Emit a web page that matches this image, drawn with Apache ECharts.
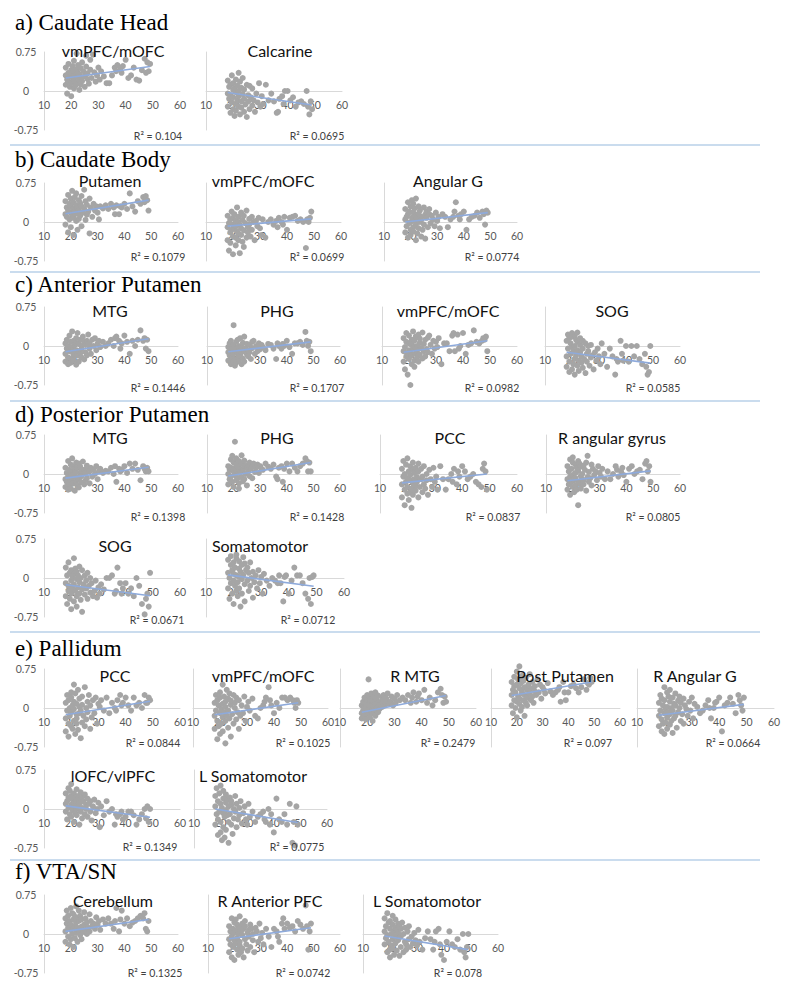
<!DOCTYPE html>
<html><head><meta charset="utf-8">
<script src="https://cdn.jsdelivr.net/npm/echarts@6/dist/echarts.min.js"></script>
<style>html,body{margin:0;padding:0;background:#fff}#c{width:792px;height:990px}</style>
</head><body><div id="c"></div>
<script>
// ---------- DATA ----------
const ages = [18,18,18,18.5,18.5,19,19,19, 19.5,19.5,20,20,20,20,20.5,20.5, 21,21,21,21,21.5,21.5,22,22, 22,22,22.5,22.5,23,23,23,23.5, 23.5,24,24,24,24.5,25,25,25.5, 25.5,26,26,26.5,27,27,27.5,28, 28.5,29,29.5,30,30.5,31,32,33,
  34,35,36,36.5,37,38,38.5,39,40,41,42,43,44,45,46,47,47.5,48,48.5,49];

const sectionTitles = ['a) Caudate Head','b) Caudate Body','c) Anterior Putamen','d) Posterior Putamen','e) Pallidum','f) VTA/SN'];

const panelNames = ['vmPFC/mOFC','Calcarine',
  'Putamen','vmPFC/mOFC','Angular G',
  'MTG','PHG','vmPFC/mOFC','SOG',
  'MTG','PHG','PCC','R angular gyrus',
  'SOG','Somatomotor',
  'PCC','vmPFC/mOFC','R MTG','Post Putamen','R Angular G',
  'lOFC/vlPFC','L Somatomotor',
  'Cerebellum','R Anterior PFC','L Somatomotor'];

const r2Labels = ['R² = 0.104','R² = 0.0695',
  'R² = 0.1079','R² = 0.0699','R² = 0.0774',
  'R² = 0.1446','R² = 0.1707','R² = 0.0982','R² = 0.0585',
  'R² = 0.1398','R² = 0.1428','R² = 0.0837','R² = 0.0805',
  'R² = 0.0671','R² = 0.0712',
  'R² = 0.0844','R² = 0.1025','R² = 0.2479','R² = 0.097','R² = 0.0664',
  'R² = 0.1349','R² = 0.0775',
  'R² = 0.1325','R² = 0.0742','R² = 0.078'];

// trend line value at youngest and oldest age
const trendAtMin = [0.25,-0.03, 0.16,-0.08,0.00, -0.11,-0.11,-0.12,-0.12, -0.08,-0.04,-0.17,-0.13, -0.13,0.06, -0.13,-0.13,-0.08,0.24,-0.14, 0.06,0.00, 0.05,-0.09,-0.04];
const trendAtMax = [0.47,-0.27, 0.42,0.06,0.18, 0.14,0.08,0.10,-0.33, 0.13,0.22,0.00,0.06, -0.34,-0.16, 0.13,0.10,0.24,0.50,0.07, -0.16,-0.26, 0.28,0.12,-0.30];

const caudHead_vmPFC = [0.30,0.12,0.45,0.22,-0.05,0.35,0.18,0.52, 0.08,0.28,0.40,0.15,0.33,-0.10,0.25,0.48, 0.05,0.38,0.20,0.58,0.30,0.10,0.42,0.27, 0.72,0.16,0.35,0.50,0.02,0.22,0.31,0.44, 0.12,0.26,0.55,0.19,0.38,0.08,0.29,0.47, 0.68,0.23,0.34,0.14,0.41,0.60,0.25,0.70, 0.36,0.18,0.30,0.45,0.22,0.38,0.28,0.15,
  0.15,0.30,0.45,0.38,0.50,0.42,0.35,0.48,0.60,0.25,0.30,0.45,0.22,0.20,0.40,0.62,0.35,0.55,0.38,0.52];
const caudHead_calcarine = [-0.05,0.20,-0.30,0.08,-0.15,-0.42,0.12,-0.08, 0.30,-0.22,0.02,-0.35,0.15,-0.12,-0.48,0.05, -0.25,0.22,-0.02,-0.38,0.10,-0.18,0.35,-0.30, 0.00,-0.10,-0.45,0.18,-0.20,0.06,-0.32,-0.06, 0.25,-0.15,-0.40,0.03,-0.26,0.12,-0.50,-0.08, -0.20,0.10,-0.35,-0.12,0.05,-0.28,-0.18,-0.40, -0.05,-0.22,0.15,-0.30,-0.10,-0.25,0.12,-0.18,
  -0.05,-0.20,-0.42,-0.40,-0.15,-0.10,-0.25,0.00,0.00,-0.18,-0.12,-0.30,-0.22,-0.20,-0.25,0.00,-0.30,-0.45,-0.20,-0.35];
const caudBody_putamen = [0.15,0.40,-0.05,0.28,0.10,0.52,-0.20,0.22, 0.35,0.05,0.18,0.45,-0.10,0.30,0.12,0.60, 0.25,-0.25,0.38,0.08,0.20,0.48,0.02,0.32, 0.16,0.55,-0.15,0.27,0.42,0.06,0.22,0.36, 0.12,0.50,-0.08,0.30,0.18,0.62,0.25,0.04, 0.40,0.14,0.33,0.20,-0.22,0.45,0.28,0.10, 0.35,0.22,0.30,0.18,0.05,0.30,0.26,0.32,
  0.25,0.35,0.28,0.15,0.32,0.15,0.30,0.28,0.35,0.25,0.55,0.30,0.20,0.40,0.35,0.48,0.38,0.50,0.42,0.22];
const caudBody_vmPFC = [-0.10,0.12,-0.35,-0.02,-0.55,0.05,-0.20,-0.40, 0.20,-0.15,-0.28,0.08,-0.05,-0.62,-0.12,0.15, -0.30,0.02,-0.45,-0.08,0.28,-0.18,-0.35,0.00, -0.22,0.10,-0.60,-0.06,-0.25,0.18,-0.12,-0.38, 0.04,-0.16,-0.48,0.12,-0.02,-0.30,0.22,-0.10, -0.20,0.06,-0.05,-0.28,0.10,-0.15,0.00,-0.35, 0.02,-0.08,0.08,-0.12,-0.25,0.05,-0.30,0.00,
  0.05,-0.05,0.02,-0.10,0.08,0.00,-0.05,0.10,-0.15,0.08,0.10,0.12,0.02,0.05,0.00,-0.50,0.05,0.00,0.08,0.20];
const caudBody_angularG = [0.05,-0.20,0.25,0.10,-0.08,0.38,-0.30,0.15, -0.02,0.20,-0.15,0.30,0.00,-0.25,0.42,0.08, -0.10,0.18,0.35,-0.18,0.02,0.26,-0.35,0.12, -0.05,0.45,0.06,-0.22,0.16,-0.12,0.30,0.00, 0.22,-0.28,0.10,0.04,-0.15,0.28,-0.05,0.14, -0.32,0.08,0.20,-0.10,0.15,0.25,-0.02,0.12, 0.05,-0.08,0.18,0.02,0.10,-0.12,0.15,0.10,
  -0.10,0.05,0.10,0.20,0.38,0.12,0.05,0.15,0.20,-0.15,0.05,0.10,0.12,0.18,0.08,0.20,0.15,-0.05,0.22,0.18];
const antPut_MTG = [-0.15,0.05,-0.30,-0.05,0.12,-0.22,-0.35,0.00, -0.10,0.20,-0.25,-0.02,0.08,-0.32,-0.12,0.28, -0.05,-0.20,0.10,-0.28,0.02,-0.15,0.15,-0.36, -0.08,0.06,-0.18,0.25,-0.10,-0.30,0.04,-0.14, 0.12,-0.22,0.00,-0.06,0.18,-0.26,0.08,-0.12, 0.02,-0.18,0.10,0.22,-0.05,0.05,-0.15,0.12, 0.00,0.15,-0.08,0.05,0.10,-0.02,0.08,0.00,
  0.05,0.12,0.00,0.15,0.18,0.10,-0.05,0.05,0.20,0.08,-0.15,0.10,0.00,0.12,0.30,0.10,0.15,-0.05,0.12,-0.10];
const antPut_PHG = [-0.12,-0.02,-0.28,0.05,-0.18,-0.35,-0.08,0.10, -0.22,-0.05,-0.30,0.40,-0.15,0.02,-0.38,-0.10, 0.08,-0.25,-0.04,-0.32,0.12,-0.14,-0.20,0.00, -0.28,-0.08,0.15,-0.18,-0.35,-0.02,-0.12,0.06, -0.24,-0.10,0.18,-0.30,-0.05,-0.16,0.04,-0.20, -0.08,0.02,-0.12,-0.25,0.08,-0.04,0.10,-0.15, 0.00,-0.10,0.05,-0.06,0.02,-0.02,-0.08,0.04,
  0.02,-0.05,-0.25,0.05,0.00,-0.05,0.04,0.00,0.10,-0.02,-0.15,0.05,0.05,0.08,0.02,0.27,0.10,0.00,0.08,-0.10];
const antPut_vmPFC = [-0.10,0.15,-0.30,-0.02,-0.45,0.08,-0.20,0.25, -0.15,-0.55,0.05,-0.08,-0.25,0.20,-0.75,-0.12, 0.02,-0.35,0.12,-0.18,-0.05,0.28,-0.28,-0.02, 0.10,-0.40,-0.14,0.18,-0.22,0.00,-0.08,0.22, -0.30,0.06,-0.16,0.14,-0.04,-0.24,0.26,-0.10, 0.04,-0.20,0.12,-0.06,0.16,-0.12,0.20,0.02, -0.15,0.10,-0.05,0.08,-0.02,0.15,-0.35,0.05,
  0.05,-0.10,0.20,0.25,-0.10,0.22,-0.05,0.00,0.25,-0.15,0.02,0.05,0.30,0.08,0.05,0.10,0.15,0.12,0.18,-0.10];
const antPut_SOG = [-0.20,0.10,-0.40,0.22,-0.05,-0.50,0.15,-0.30, 0.05,-0.15,0.25,-0.45,-0.02,0.18,-0.35,-0.10, 0.20,-0.25,0.00,-0.55,0.12,-0.18,-0.38,0.08, -0.08,0.26,-0.28,-0.48,0.02,-0.12,0.15,-0.32, -0.20,0.10,-0.42,-0.05,-0.25,0.05,-0.52,-0.15, -0.30,0.00,-0.10,-0.38,-0.22,0.02,-0.18,-0.45, -0.12,-0.28,-0.05,-0.20,-0.35,0.05,-0.15,-0.40,
  -0.05,-0.20,-0.55,-0.25,-0.30,0.10,-0.15,-0.28,0.00,-0.30,0.00,-0.20,0.00,-0.25,-0.35,-0.15,-0.40,-0.55,-0.50,0.00];
const postPut_MTG = [-0.10,0.12,-0.25,0.02,-0.15,0.25,-0.30,-0.05, 0.08,-0.20,0.18,-0.12,0.00,-0.28,0.30,-0.08, 0.05,-0.18,0.15,-0.02,-0.32,0.10,-0.14,0.22, -0.06,0.04,-0.22,0.12,-0.10,0.20,-0.26,0.00, 0.14,-0.16,0.06,-0.04,0.24,-0.20,0.08,-0.12, 0.02,0.16,-0.08,0.10,-0.18,0.05,0.12,-0.05, 0.08,0.00,0.15,-0.10,0.05,0.10,0.02,0.06,
  0.05,0.12,0.00,0.15,-0.15,0.10,0.05,0.08,0.15,0.02,0.20,0.10,0.20,0.08,-0.12,0.15,0.10,0.05,0.12,0.05];
const postPut_PHG = [0.00,0.15,-0.20,0.08,-0.10,0.28,-0.05,0.12, 0.35,-0.15,0.05,0.22,-0.25,0.10,0.62,-0.02, 0.18,-0.12,0.06,0.30,-0.08,0.14,-0.28,0.02, 0.25,-0.18,0.10,0.04,0.20,-0.06,0.36,-0.14, 0.08,0.16,-0.10,0.26,0.00,0.12,-0.22,0.18, 0.06,0.22,-0.04,0.10,0.15,-0.08,0.20,0.04, 0.12,0.18,0.02,0.15,0.10,0.08,0.20,0.14,
  0.10,0.18,-0.05,-0.10,0.12,0.15,-0.15,0.10,0.20,0.05,0.20,0.12,0.05,0.15,0.20,0.30,0.25,0.05,0.22,0.05];
const postPut_PCC = [-0.20,0.10,-0.45,-0.05,0.25,-0.30,-0.60,0.00, -0.15,0.18,-0.38,-0.08,0.30,-0.25,-0.50,0.05, -0.12,-0.35,0.15,-0.02,-0.28,-0.65,0.08,-0.18, 0.22,-0.40,-0.10,0.02,-0.22,0.12,-0.32,-0.06, -0.15,0.20,-0.45,0.05,-0.25,-0.10,0.10,-0.35, -0.05,-0.20,0.15,-0.28,0.00,-0.12,-0.40,0.08, -0.10,-0.25,0.12,-0.15,-0.05,-0.30,0.15,-0.10,
  -0.30,-0.10,0.00,-0.15,0.10,-0.20,0.05,-0.05,0.15,0.05,-0.10,-0.05,0.00,-0.15,-0.20,-0.25,0.10,0.20,0.05,-0.30];
const postPut_RAngular = [-0.10,0.15,-0.30,0.05,-0.20,0.28,-0.05,-0.40, 0.10,-0.15,0.22,-0.25,-0.02,0.32,-0.12,-0.35, 0.02,0.18,-0.22,-0.08,0.12,-0.30,0.25,-0.15, -0.60,0.06,-0.18,0.20,-0.04,-0.28,0.14,-0.10, 0.00,-0.20,0.16,-0.12,0.08,-0.32,0.22,-0.06, 0.35,-0.15,0.04,-0.08,0.18,-0.22,0.10,-0.02, 0.05,-0.12,0.15,0.02,-0.05,0.10,-0.10,0.05,
  -0.10,0.00,0.15,0.08,-0.05,0.05,0.12,-0.02,-0.15,0.10,0.15,0.00,0.05,0.08,-0.10,0.20,0.25,0.05,0.15,-0.15];
const postPut_SOG = [-0.10,0.20,-0.35,0.05,-0.50,-0.15,0.30,-0.25, 0.10,-0.40,-0.05,0.15,-0.30,-0.60,0.02,-0.20, 0.38,-0.12,-0.45,0.08,-0.25,0.18,-0.35,-0.02, 0.12,-0.55,-0.18,0.05,-0.30,0.22,-0.08,-0.42, 0.00,-0.22,0.15,-0.65,-0.12,0.05,-0.32,-0.05, -0.20,0.10,-0.40,-0.15,0.00,-0.28,-0.10,-0.35, -0.25,-0.05,-0.38,-0.18,-0.30,-0.12,-0.22,0.00,
  0.00,0.05,-0.30,-0.25,0.20,-0.10,-0.30,-0.20,-0.10,-0.30,-0.20,-0.35,0.00,-0.15,-0.50,-0.70,-0.40,-0.30,-0.55,0.10];
const postPut_somatomotor = [0.10,-0.20,0.35,0.00,-0.40,0.25,-0.10,0.42, -0.30,0.15,-0.05,0.30,-0.50,0.08,0.20,-0.15, 0.45,-0.25,0.05,0.38,-0.08,-0.35,0.18,0.02, -0.20,0.32,-0.55,0.12,-0.02,0.25,-0.30,0.40, 0.06,-0.12,0.28,-0.45,0.15,-0.05,0.20,-0.25, 0.10,-0.15,0.30,0.00,-0.38,0.12,-0.08,0.05, -0.20,0.15,-0.10,0.02,-0.30,0.08,-0.05,-0.15,
  0.00,-0.05,-0.10,0.05,-0.10,-0.45,0.02,0.05,-0.30,-0.05,0.20,0.05,0.05,-0.10,-0.30,-0.40,0.00,-0.50,0.02,0.05];
const pall_PCC = [-0.20,0.10,-0.45,0.25,-0.05,-0.30,0.15,-0.55, 0.00,-0.15,0.30,-0.35,-0.08,0.20,-0.40,0.05, 0.45,-0.25,-0.02,0.12,-0.50,0.28,-0.12,-0.30, 0.08,-0.20,0.35,-0.42,0.02,-0.10,0.18,-0.58, -0.05,0.22,-0.28,0.06,-0.15,0.40,-0.35,0.00, -0.22,0.12,-0.08,0.25,-0.40,0.05,-0.18,0.15, -0.10,0.20,-0.30,0.08,0.02,0.15,-0.05,0.20,
  -0.10,0.10,0.00,-0.05,0.15,0.25,0.05,0.10,0.20,0.05,-0.05,0.20,0.05,0.10,0.00,0.25,0.10,0.10,0.20,0.15];
const pall_vmPFC = [-0.15,0.10,-0.40,0.25,-0.05,-0.60,0.15,-0.25, 0.05,-0.35,0.30,-0.10,-0.50,0.20,-0.02,-0.30, 0.45,-0.18,0.08,-0.45,0.22,-0.08,-0.68,0.12, -0.25,0.02,0.35,-0.15,-0.38,0.18,-0.05,0.28, -0.20,0.06,-0.55,0.14,-0.12,0.25,-0.30,0.00, 0.10,-0.22,0.20,-0.08,-0.40,0.15,-0.15,0.05, -0.10,0.22,-0.25,0.02,0.12,-0.05,0.18,-0.15,
  -0.20,0.00,0.05,0.12,0.20,0.40,0.15,0.05,-0.10,0.10,0.00,0.20,0.20,0.15,0.20,0.15,0.10,0.00,0.15,0.10];
const pall_RMTG = [-0.10,0.05,-0.20,0.12,-0.05,0.20,-0.15,0.00, 0.08,-0.22,0.15,-0.08,0.25,-0.02,0.55,-0.12, 0.10,-0.18,0.02,0.18,-0.06,0.28,-0.25,0.05, 0.14,-0.10,0.22,-0.04,0.08,-0.15,0.30,0.00, 0.16,-0.08,0.10,0.24,-0.02,0.12,0.06,0.20, 0.02,0.15,0.25,0.05,0.18,0.10,0.28,0.08, 0.12,0.22,0.05,0.18,0.10,0.25,0.15,0.20,
  0.15,0.25,0.10,0.20,0.30,0.12,0.22,0.28,0.15,0.35,0.10,0.20,0.05,0.15,0.30,0.37,0.25,0.10,0.22,0.12];
const pall_postPutamen = [0.25,0.50,0.05,0.35,-0.10,0.60,0.15,0.42, 0.00,0.30,0.70,0.12,0.45,-0.18,0.22,0.55, 0.08,0.38,0.80,0.18,-0.05,0.48,0.28,0.62, 0.02,0.32,0.15,0.52,-0.15,0.40,0.25,0.10, 0.58,0.20,0.35,0.05,0.45,0.28,0.65,0.15, 0.38,0.22,0.50,0.10,0.32,0.42,0.25,0.55, 0.30,0.45,0.18,0.40,0.35,0.28,0.48,0.32,
  0.25,0.30,0.35,0.40,0.12,0.50,0.30,0.15,0.30,0.42,0.45,0.38,0.30,0.40,0.55,0.35,0.48,0.45,0.58,0.50];
const pall_RAngularG = [-0.15,0.10,-0.35,0.25,-0.05,-0.45,0.18,-0.22, 0.05,-0.30,0.40,-0.10,-0.50,0.15,-0.02,-0.28, 0.30,-0.18,0.02,-0.40,0.22,-0.08,-0.32,0.12, -0.12,0.35,-0.25,0.00,-0.48,0.20,-0.05,0.08, -0.20,0.28,-0.15,0.05,-0.38,0.14,-0.08,0.22, 0.00,-0.25,0.10,-0.12,0.18,-0.30,0.05,-0.02, -0.15,0.12,-0.05,0.20,-0.20,0.08,0.02,-0.10,
  -0.05,0.05,0.15,0.00,-0.20,0.00,0.10,0.12,0.20,-0.45,0.05,0.10,0.20,0.08,-0.10,0.25,0.15,0.05,-0.05,0.20];
const pall_lOFC = [0.10,-0.05,0.30,0.15,-0.20,0.40,0.02,0.22, -0.10,0.35,0.08,-0.15,0.25,0.48,-0.02,0.18, 0.12,-0.25,0.30,0.05,0.20,-0.08,0.38,0.00, 0.15,-0.12,0.25,0.06,-0.30,0.18,0.10,0.32, -0.05,0.22,0.02,-0.18,0.14,0.28,-0.10,0.08, 0.00,0.20,-0.15,0.10,-0.05,0.15,-0.22,0.05, 0.18,-0.08,0.00,0.12,-0.35,0.05,-0.12,0.15,
  -0.05,0.00,-0.30,-0.10,-0.15,-0.10,-0.05,-0.20,-0.15,-0.05,-0.05,-0.12,-0.30,-0.20,-0.10,0.00,-0.18,0.05,-0.25,0.00];
const pall_LSomatomotor = [0.05,-0.30,0.25,-0.10,0.40,-0.50,0.15,-0.20, 0.30,-0.05,-0.45,0.10,-0.25,0.45,-0.60,0.02, 0.20,-0.35,-0.08,0.35,-0.15,-0.55,0.12,-0.02, 0.28,-0.40,-0.12,0.18,-0.65,0.05,-0.25,0.22, -0.10,0.08,-0.30,0.15,-0.48,0.00,-0.18,0.25, -0.05,-0.35,0.10,-0.20,0.02,-0.12,0.15,-0.28, -0.08,0.05,-0.20,-0.30,0.10,-0.15,-0.05,-0.25,
  -0.15,-0.10,-0.05,-0.20,-0.25,0.00,-0.30,-0.10,-0.45,0.20,-0.20,-0.25,-0.10,-0.30,0.10,-0.65,-0.25,-0.70,0.05,-0.30];
const vta_cerebellum = [0.05,0.30,-0.15,0.20,0.45,-0.05,0.12,0.35, -0.20,0.25,0.08,0.50,-0.10,0.18,0.40,0.00, 0.28,-0.25,0.10,0.38,0.15,-0.08,0.53,0.22, 0.02,0.32,-0.15,0.12,0.45,0.06,0.25,-0.02, 0.35,0.14,-0.10,0.28,0.04,0.42,0.18,0.08, 0.30,0.00,0.22,0.12,0.38,0.05,0.25,0.15, 0.20,0.10,0.32,0.18,0.25,0.08,0.28,0.20,
  0.30,0.20,0.10,0.25,0.50,0.05,0.28,0.45,0.20,0.30,0.15,0.22,0.25,0.30,0.35,0.30,0.40,0.10,0.05,0.25];
const vta_RAntPFC = [-0.10,0.15,-0.35,0.05,-0.20,0.30,-0.45,-0.05, 0.10,-0.25,0.22,-0.12,-0.50,0.02,0.28,-0.18, -0.30,0.08,-0.08,0.18,-0.40,0.00,0.34,-0.22, 0.12,-0.15,-0.35,0.05,0.20,-0.28,-0.02,0.10, -0.45,0.15,-0.10,0.25,-0.20,0.02,-0.32,0.08, -0.05,0.18,-0.25,0.10,-0.12,0.00,-0.35,0.12, 0.05,-0.15,0.20,-0.08,0.02,-0.20,0.10,-0.05,
  -0.25,0.10,0.05,-0.05,-0.15,0.20,0.30,0.10,0.20,0.12,0.15,0.05,0.25,0.18,0.10,0.55,0.15,-0.30,0.05,0.20];
const vta_LSomatomotor = [0.05,-0.20,0.30,-0.08,0.15,-0.35,0.40,-0.02, -0.15,0.22,-0.30,0.10,-0.45,0.25,0.00,-0.22, 0.18,-0.10,0.35,-0.28,0.05,-0.40,0.12,-0.05, 0.28,-0.18,0.08,-0.32,0.20,-0.12,0.02,-0.42, 0.15,-0.25,0.10,-0.05,0.22,-0.35,0.00,-0.15, 0.12,-0.20,-0.30,0.05,-0.10,0.15,-0.25,-0.05, -0.18,0.02,-0.12,-0.22,0.08,-0.15,-0.30,-0.08,
  0.05,-0.10,-0.30,-0.15,0.05,0.10,-0.20,-0.40,-0.50,-0.15,0.05,-0.20,-0.25,-0.10,-0.30,0.00,-0.35,-0.45,-0.25,0.00];

const panelValues = [caudHead_vmPFC, caudHead_calcarine,
  caudBody_putamen, caudBody_vmPFC, caudBody_angularG,
  antPut_MTG, antPut_PHG, antPut_vmPFC, antPut_SOG,
  postPut_MTG, postPut_PHG, postPut_PCC, postPut_RAngular,
  postPut_SOG, postPut_somatomotor,
  pall_PCC, pall_vmPFC, pall_RMTG, pall_postPutamen, pall_RAngularG,
  pall_lOFC, pall_LSomatomotor,
  vta_cerebellum, vta_RAntPFC, vta_LSomatomotor];

// ---------- LAYOUT ----------
// each row: y of +0.75 (top) and -0.75 (bottom), title y, R² y; each panel: [x of 10, x of 60, title x, R² x]
const rows = [
  {top:52, bottom:130, titleY:50, r2Y:136, panels:[[44,180,113,158],[206,342,280,317]]},
  {top:183, bottom:261, titleY:180, r2Y:257, panels:[[44,178,110,158],[206,341,263,317],[384,517,448,492]]},
  {top:307, bottom:385, titleY:310, r2Y:388, panels:[[44,178,110,158],[207,340,277,317],[382,517,448,492],[545,680,612,653]]},
  {top:435, bottom:513, titleY:437, r2Y:517, panels:[[44,178,110,158],[207,340,277,317],[380,517,450,493],[546,680,612,653]]},
  {top:539, bottom:617, titleY:545, r2Y:620, panels:[[44,180,115,157],[206,344,260,308]]},
  {top:669, bottom:747, titleY:675, r2Y:743, panels:[[44,180,115,153],[193,328,263,303],[340,476,415,448],[491,620,565,588],[637,774,695,733]]},
  {top:770, bottom:848, titleY:775, r2Y:847, panels:[[44,180,113,150],[194,327,253,297]]},
  {top:895, bottom:973, titleY:900, r2Y:973, panels:[[44,178,113,155],[208,340,270,303],[363,498,427,458]]}
];
const headerY = [22,159,284,414,648,871];
const separatorY = [145,272,401,632,860];

const grids = [], xAxes = [], yAxes = [], series = [], graphic = [];
const minAge = Math.min(...ages), maxAge = Math.max(...ages);
const tickFont = 'Lato, "Liberation Sans", sans-serif';
let k = 0;
rows.forEach(row => {
  const h = row.bottom - row.top;
  row.panels.forEach((p, j) => {
    grids.push({left:p[0], top:row.top, width:p[1]-p[0], height:h});
    xAxes.push({gridIndex:k, type:'value', min:10, max:60, interval:10,
      axisLine:{onZero:true, lineStyle:{color:'#d9d9d9', width:1}},
      axisTick:{show:false}, splitLine:{show:false},
      // labels sit just below the zero line (half the plot height above the grid bottom)
      axisLabel:{color:'#595959', fontSize:10.5, fontFamily:tickFont, margin:-(h/2 - 8), showMinLabel:true, showMaxLabel:true}});
    yAxes.push({gridIndex:k, type:'value', min:-0.75, max:0.75, interval:0.75,
      axisLine:{show:true, onZero:false, lineStyle:{color:'#d9d9d9', width:1}},
      axisTick:{show:false}, splitLine:{show:false},
      axisLabel:{show:j===0, color:'#595959', fontSize:10.5, fontFamily:tickFont, align:'center', margin:18}});
    const ys = panelValues[k];
    series.push({type:'scatter', xAxisIndex:k, yAxisIndex:k, clip:false, silent:true,
      data: ages.map((a,i)=>[a, ys[i]]), symbolSize:6, itemStyle:{color:'#a5a5a5', opacity:1}, z:2});
    series.push({type:'line', xAxisIndex:k, yAxisIndex:k, silent:true, symbol:'none',
      data:[[minAge, trendAtMin[k]],[maxAge, trendAtMax[k]]],
      lineStyle:{color:'#8eaadb', width:1.6}, z:3});
    graphic.push({type:'text', z:10, style:{text:panelNames[k], x:p[2], y:row.titleY,
      align:'center', verticalAlign:'middle', textAlign:'center', textVerticalAlign:'middle',
      font:'16px Lato, "Liberation Sans", sans-serif', fill:'#111'}});
    graphic.push({type:'text', z:10, style:{text:r2Labels[k], x:p[3], y:row.r2Y,
      align:'center', verticalAlign:'middle', textAlign:'center', textVerticalAlign:'middle',
      font:'10.5px Lato, "Liberation Sans", sans-serif', fill:'#404040'}});
    k++;
  });
});
sectionTitles.forEach((t, i) => {
  graphic.push({type:'text', z:10, style:{text:t, x:15, y:headerY[i],
    align:'left', verticalAlign:'middle', textAlign:'left', textVerticalAlign:'middle',
    font:'23px "Liberation Serif", "Times New Roman", serif', fill:'#000'}});
});
separatorY.forEach(y => {
  graphic.push({type:'line', z:1, shape:{x1:10, y1:y, x2:760, y2:y}, style:{stroke:'#b8d0e8', lineWidth:1.5}});
});

const chart = echarts.init(document.getElementById('c'), null, {renderer:'svg', width:792, height:990});
chart.setOption({animation:false, backgroundColor:'#fff', grid:grids, xAxis:xAxes, yAxis:yAxes, series:series, graphic:graphic});
</script></body></html>
